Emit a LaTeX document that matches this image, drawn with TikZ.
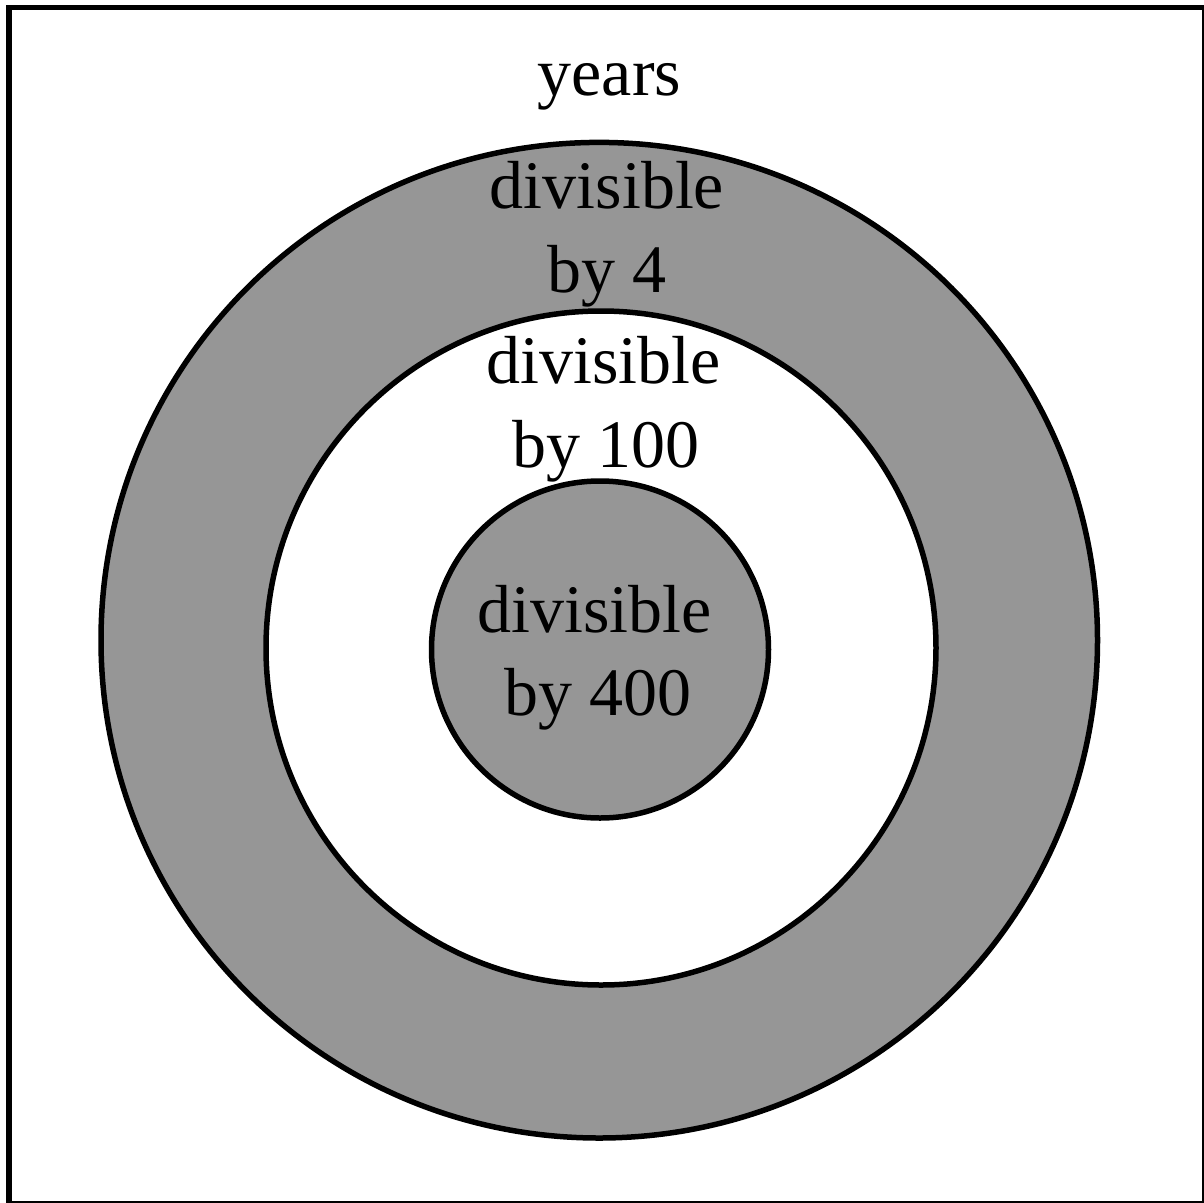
\documentclass[tikz,border=0pt]{standalone}
\usepackage{fontspec}
\setmainfont{Liberation Serif}
\definecolor{ringgray}{RGB}{150,150,150}
\begin{document}
\begin{tikzpicture}[x=1pt,y=-1pt,
  ring/.style={draw=black,line width=5.5pt},
  lbl/.style={anchor=base,inner sep=0pt,font=\fontsize{68}{84}\selectfont}]
\useasboundingbox (0,0) rectangle (1203,1203);
\draw[line width=5.5pt] (9,7.5) rectangle (1204.5,1203.5);
\path[ring,fill=ringgray] (599.25,640.2) ellipse [x radius=498.25,y radius=497.8];
\path[ring,fill=white] (601,648) ellipse [x radius=335,y radius=337];
\path[ring,fill=ringgray] (600,649.5) ellipse [x radius=168.5,y radius=168.5];
\node[lbl] (years) at (609.5,95) {years};
\node[lbl] (fourA) at (607,208) {divisible};
\node[lbl] (fourB) at (607,292) {by 4};
\node[lbl] (hundA) at (603.5,383) {divisible};
\node[lbl] (hundB) at (606,467) {by 100};
\node[lbl] (fhA) at (594.5,632) {divisible};
\node[lbl] (fhB) at (598,715) {by 400};
\end{tikzpicture}
\end{document}
